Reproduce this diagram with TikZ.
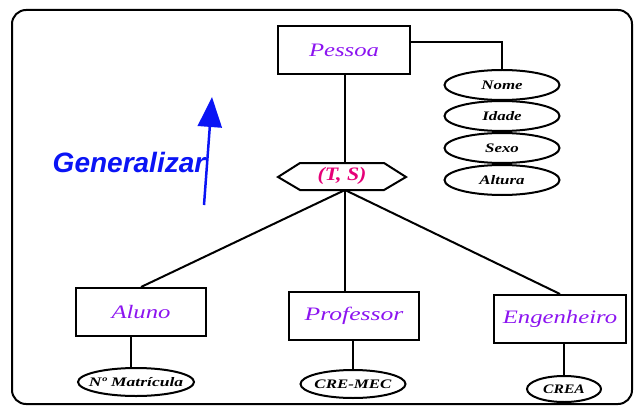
\documentclass[tikz,border=0pt]{standalone}
\usepackage{fontspec}
\setmainfont{Liberation Serif}
\setsansfont{Liberation Sans}
\usetikzlibrary{shapes.geometric,arrows.meta}
\definecolor{entpurple}{RGB}{140,20,240}
\definecolor{relpink}{RGB}{230,0,120}
\definecolor{genblue}{RGB}{10,20,245}
% horizontally widened label text
\newcommand{\widetext}[2][1.3]{\scalebox{#1}[1]{#2}}
% widened label that does not enlarge its shape
\newcommand{\flatlabel}[2][1.3]{\makebox[0pt]{\scalebox{#1}[1]{#2}}}
\tikzset{
  entity/.style={draw, line width=2pt, minimum width=130pt, minimum height=48pt,
    font=\itshape\fontsize{19}{19}\selectfont, text=entpurple},
  attrib/.style={draw, ellipse, line width=2pt, inner sep=0pt,
    font=\itshape\bfseries\fontsize{13}{13}\selectfont},
  link/.style={line width=2pt},
}
\begin{document}
\begin{tikzpicture}[x=1pt,y=-1pt]
\useasboundingbox (0,0) rectangle (636,406);
% frame
\draw[line width=2pt, rounded corners=14pt] (12,10) rectangle (632,404);

% supertype and its attributes
\node[entity, minimum width=132pt] (pessoa) at (344,50) {\widetext{Pessoa}};
\node[attrib, minimum width=115pt, minimum height=30pt] (nome) at (502,85) {\flatlabel{Nome}};
\node[attrib, minimum width=115pt, minimum height=30pt] (idade) at (502,116) {\flatlabel{Idade}};
\node[attrib, minimum width=115pt, minimum height=30pt] (sexo) at (502,148) {\flatlabel{Sexo}};
\node[attrib, minimum width=115pt, minimum height=30pt] (altura) at (502,180) {\flatlabel{Altura}};
\draw[link] (pessoa.east |- 0,42) -- (502,42) -- (nome.north);

% specialization
\coordinate (tstop) at (345,163);
\coordinate (tsbot) at (345,190);
\draw[line width=2pt, fill=white] (278,177) -- (300,163) -- (384,163) -- (406,177) -- (384,190) -- (300,190) -- cycle;
\node[font=\itshape\bfseries\fontsize{19}{19}\selectfont, text=relpink] (ts) at (342,176) {\widetext[1.15]{(T, S)}};
\draw[link] (pessoa.south -| tstop) -- (tstop);

% subtypes
\node[entity] (aluno) at (141,312) {\widetext{Aluno}};
\node[entity] (prof) at (354,316) {\widetext[1.35]{Professor}};
\node[entity, minimum width=132pt] (eng) at (560,319) {\widetext[1.3]{Engenheiro}};
\draw[link] (tsbot) -- (aluno.north);
\draw[link] (tsbot) -- (prof.north -| tsbot);
\draw[link] (tsbot) -- (eng.north);

% subtype attributes
\node[attrib, minimum width=116pt, minimum height=28pt] (matr) at (136,382) {\flatlabel[1.35]{Nº Matrícula}};
\node[attrib, minimum width=105pt, minimum height=28pt] (mec) at (353,384) {\flatlabel[1.3]{CRE-MEC}};
\node[attrib, minimum width=74pt, minimum height=26pt] (crea) at (564,389) {\flatlabel[1.2]{CREA}};
\draw[link] (aluno.south -| 131,0) -- (matr.north -| 131,0);
\draw[link] (prof.south -| 353,0) -- (mec.north);
\draw[link] (eng.south -| 564,0) -- (crea.north);

% direction of generalization
\node[font=\sffamily\bfseries\itshape\fontsize{28}{28}\selectfont, text=genblue] (gen) at (129,162) {Generalizar};
\coordinate (arrs) at (204,205);
\coordinate (arre) at (212,97);
\draw[genblue, line width=2.5pt, -{Triangle[length=30pt,width=24pt]}] (arrs) -- (arre);
\end{tikzpicture}
\end{document}
